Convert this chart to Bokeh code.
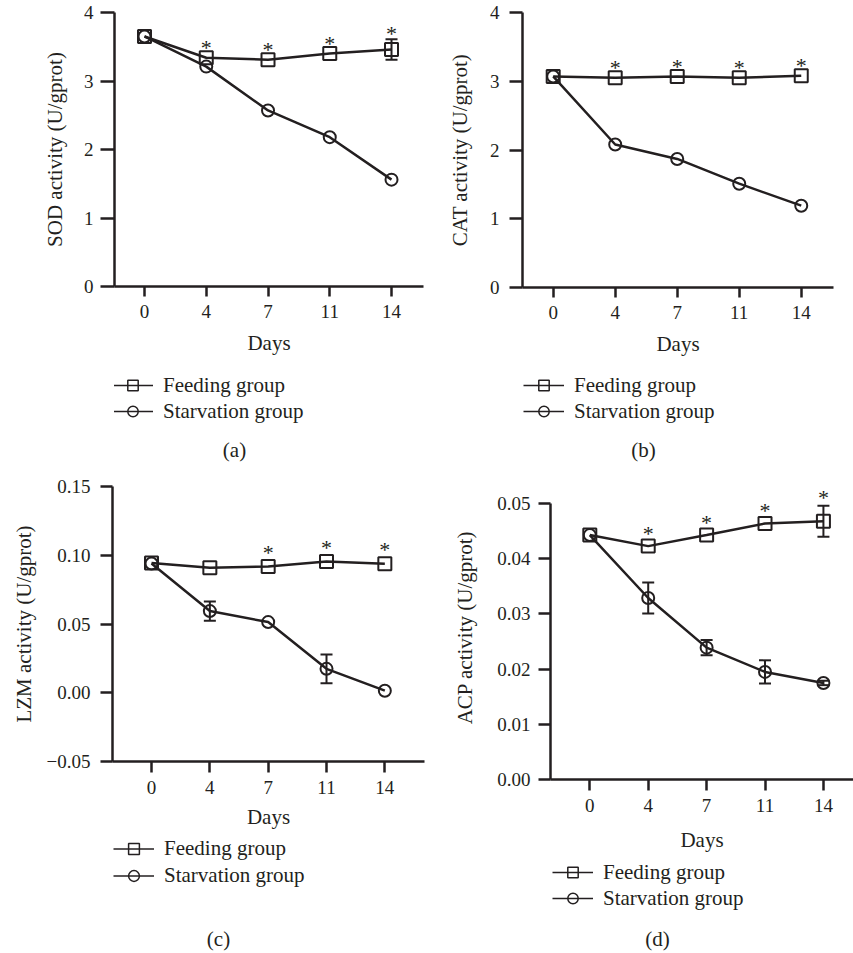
from bokeh.embed import file_html
from bokeh.layouts import column, row
from bokeh.models import (ColumnDataSource, FixedTicker, Label, LabelSet,
                          Legend, LegendItem, Range1d, TeeHead, Whisker)
from bokeh.plotting import figure
from bokeh.resources import INLINE

# ---------------------------------------------------------------- data
days = ["0", "4", "7", "11", "14"]

# (a) SOD
sod_feed = [3.65, 3.34, 3.31, 3.40, 3.46]
sod_feed_err = [0, 0, 0, 0, 0.15]
sod_starv = [3.65, 3.21, 2.57, 2.18, 1.56]
sod_starv_err = [0, 0, 0, 0, 0]
sod_sig = [False, True, True, True, True]
sod_ticks = [0, 1, 2, 3, 4]
sod_tick_labels = ["0", "1", "2", "3", "4"]

# (b) CAT
cat_feed = [3.07, 3.05, 3.07, 3.05, 3.08]
cat_feed_err = [0, 0, 0, 0, 0]
cat_starv = [3.07, 2.08, 1.87, 1.51, 1.19]
cat_starv_err = [0, 0, 0, 0, 0]
cat_sig = [False, True, True, True, True]
cat_ticks = [0, 1, 2, 3, 4]
cat_tick_labels = ["0", "1", "2", "3", "4"]

# (c) LZM
lzm_feed = [0.0943, 0.0909, 0.0918, 0.0955, 0.0938]
lzm_feed_err = [0, 0, 0, 0, 0]
lzm_starv = [0.0940, 0.0594, 0.0514, 0.0174, 0.0015]
lzm_starv_err = [0, 0.0070, 0, 0.0104, 0]
lzm_sig = [False, False, True, True, True]
lzm_ticks = [-0.05, 0.0, 0.05, 0.10, 0.15]
lzm_tick_labels = ["\u22120.05", "0.00", "0.05", "0.10", "0.15"]

# (d) ACP
acp_feed = [0.0443, 0.0423, 0.0443, 0.0464, 0.0468]
acp_feed_err = [0, 0, 0, 0, 0.0028]
acp_starv = [0.0443, 0.0329, 0.0239, 0.0195, 0.0175]
acp_starv_err = [0, 0.0028, 0.0014, 0.0021, 0.0004]
acp_sig = [False, True, True, True, True]
acp_ticks = [0.0, 0.01, 0.02, 0.03, 0.04, 0.05]
acp_tick_labels = ["0.00", "0.01", "0.02", "0.03", "0.04", "0.05"]

group_labels = ["Feeding group", "Starvation group"]

# ---------------------------------------------------------------- style
FONT = "Liberation Serif"
INK = "#231f20"
LINE_W = 2.5


def data_panel(width, height, frame, xr, yr, ylabel, ticks, tick_labels,
               feed, feed_err, starv, starv_err, sig,
               star_gap, star_err_gap, ytick_out, xtick_out,
               ytick_standoff, ylabel_standoff, xlabel_standoff):
    left, right, top, bottom = frame
    p = figure(width=width, height=height,
               x_range=Range1d(*xr), y_range=Range1d(*yr),
               toolbar_location=None, output_backend="svg",
               min_border_left=left, min_border_right=width - right,
               min_border_top=top, min_border_bottom=height - bottom,
               outline_line_color=None, background_fill_color="white",
               border_fill_color="white")
    p.grid.visible = False

    idx = list(range(len(days)))

    # x axis: evenly spaced sampling days
    xa = p.xaxis[0]
    xa.ticker = FixedTicker(ticks=idx)
    xa.major_label_overrides = {i: d for i, d in enumerate(days)}
    xa.axis_label = "Days"
    xa.major_tick_out = xtick_out
    xa.major_label_standoff = 8
    xa.axis_label_standoff = xlabel_standoff

    # y axis line stops at the last tick even if the range runs higher
    ya = p.yaxis[0]
    ya.ticker = FixedTicker(ticks=ticks)
    ya.bounds = (ticks[0], ticks[-1])
    ya.major_label_overrides = {t: l for t, l in zip(ticks, tick_labels)}
    ya.axis_label = ylabel
    ya.major_tick_out = ytick_out
    ya.major_label_standoff = ytick_standoff
    ya.axis_label_standoff = ylabel_standoff

    for ax in (xa, ya):
        ax.major_tick_in = 0
        ax.minor_tick_out = 0
        ax.minor_tick_in = 0
        ax.axis_line_width = LINE_W
        ax.axis_line_color = INK
        ax.major_tick_line_width = LINE_W
        ax.major_tick_line_color = INK
        ax.major_label_text_font = FONT
        ax.major_label_text_font_size = "19px"
        ax.major_label_text_color = INK
        ax.axis_label_text_font = FONT
        ax.axis_label_text_font_size = "21px"
        ax.axis_label_text_font_style = "normal"
        ax.axis_label_text_color = INK

    src_f = ColumnDataSource(dict(x=idx, y=feed))
    src_s = ColumnDataSource(dict(x=idx, y=starv))

    p.line("x", "y", source=src_s, line_width=LINE_W, line_color=INK)
    p.line("x", "y", source=src_f, line_width=LINE_W, line_color=INK)
    p.scatter("x", "y", source=src_s, marker="circle", size=12,
              line_width=2, line_color=INK, fill_alpha=0)
    p.scatter("x", "y", source=src_f, marker="square", size=13,
              line_width=2, line_color=INK, fill_alpha=0)

    # error bars (mean ± SE) where they extend beyond the markers
    for vals, errs in ((feed, feed_err), (starv, starv_err)):
        xs = [i for i, e in zip(idx, errs) if e > 0]
        if not xs:
            continue
        up = [vals[i] + errs[i] for i in xs]
        lo = [vals[i] - errs[i] for i in xs]
        wsrc = ColumnDataSource(dict(x=xs, upper=up, lower=lo))
        w = Whisker(base="x", upper="upper", lower="lower", source=wsrc,
                    line_width=2, line_color=INK,
                    upper_head=TeeHead(size=12, line_width=2, line_color=INK),
                    lower_head=TeeHead(size=12, line_width=2, line_color=INK))
        p.add_layout(w)

    # significance marks over the feeding group
    sx, sy, soff = [], [], []
    for i, flag in enumerate(sig):
        if flag:
            sx.append(i)
            sy.append(feed[i] + feed_err[i])
            gap = star_err_gap if feed_err[i] > 0 else star_gap
            soff.append(gap - 4)
    stars = ColumnDataSource(dict(x=sx, y=sy, t=["*"] * len(sx), dy=soff))
    p.add_layout(LabelSet(x="x", y="y", text="t", y_offset="dy", source=stars,
                          text_align="center", text_baseline="middle",
                          text_font=FONT, text_font_size="22px",
                          text_color=INK))
    return p


def legend_panel(width, height, frame_lr, loc, row_pitch, tag, tag_xy):
    # frame spans the same columns as the chart above it, so the x range is
    # expressed in the canvas pixels of that frame
    left, right = frame_lr
    p = figure(width=width, height=height,
               x_range=Range1d(left, right), y_range=Range1d(0, height),
               toolbar_location=None, output_backend="svg",
               min_border_left=left, min_border_right=width - right,
               min_border_top=0, min_border_bottom=0,
               x_axis_location=None, y_axis_location=None,
               outline_line_color=None, border_fill_color="white",
               background_fill_color="white")
    p.grid.visible = False
    nan = [float("nan")]
    fl = p.line(nan, nan, line_width=1.5, line_color=INK)
    fs = p.scatter(nan, nan, marker="square", size=12, line_width=1.5,
                   line_color=INK, fill_alpha=0)
    sl = p.line(nan, nan, line_width=1.5, line_color=INK)
    ss = p.scatter(nan, nan, marker="circle", size=12, line_width=1.5,
                   line_color=INK, fill_alpha=0)
    leg = Legend(items=[LegendItem(label=group_labels[0], renderers=[fl, fs]),
                        LegendItem(label=group_labels[1], renderers=[sl, ss])],
                 location=(loc[0] - left, loc[1]), orientation="vertical",
                 glyph_width=41, glyph_height=row_pitch, label_height=row_pitch,
                 spacing=0, label_standoff=10,
                 padding=0, margin=0, border_line_alpha=0,
                 background_fill_alpha=0,
                 label_text_font=FONT, label_text_font_size="21px",
                 label_text_color=INK)
    p.add_layout(leg, "center")
    p.add_layout(Label(x=tag_xy[0], y=tag_xy[1], text=tag,
                       text_align="center", text_baseline="middle",
                       text_font=FONT, text_font_size="21px",
                       text_color=INK))
    return p


pa = data_panel(430, 365, (114, 423, 12, 286), (-0.486, 4.518), (0, 4),
                "SOD activity (U/gprot)", sod_ticks, sod_tick_labels,
                sod_feed, sod_feed_err, sod_starv, sod_starv_err, sod_sig,
                14, 10, 14, 10, 7, 14, 10)
la = legend_panel(430, 100, (114, 423), (112, 41), 26, "(a)", (234, 16))

pb = data_panel(423, 365, (92, 403, 12, 287), (-0.495, 4.52), (0, 4),
                "CAT activity (U/gprot)", cat_ticks, cat_tick_labels,
                cat_feed, cat_feed_err, cat_starv, cat_starv_err, cat_sig,
                14, 10, 13, 10, 10, 15, 10)
lb = legend_panel(423, 100, (92, 403), (93, 41), 26, "(b)", (213, 16))

pc = data_panel(430, 367, (112, 424, 21, 296), (-0.669, 4.68), (-0.05, 0.15),
                "LZM activity (U/gprot)", lzm_ticks, lzm_tick_labels,
                lzm_feed, lzm_feed_err, lzm_starv, lzm_starv_err, lzm_sig,
                18, 10, 12, 11, 10, 8, 8)
lc = legend_panel(430, 121, (112, 424), (113, 64), 27, "(c)", (218, 15))

# (d): the range runs a little past 0.05 so the last mark stays in view;
# 276 px per 0.05 keeps 0.05 at the same height as before
pd_ = data_panel(423, 390, (120, 423, 10, 314), (-0.673, 4.515), (0, 0.0551),
                 "ACP activity (U/gprot)", acp_ticks, acp_tick_labels,
                 acp_feed, acp_feed_err, acp_starv, acp_starv_err, acp_sig,
                 17, 12, 12, 11, 8, 17, 13)
ld = legend_panel(423, 98, (120, 423), (122, 42), 26, "(d)", (227, 15))

layout = column(row(column(pa, la), column(pb, lb)),
                row(column(pc, lc), column(pd_, ld)))

with open("out.html", "w") as fh:
    fh.write(file_html(layout, INLINE))
